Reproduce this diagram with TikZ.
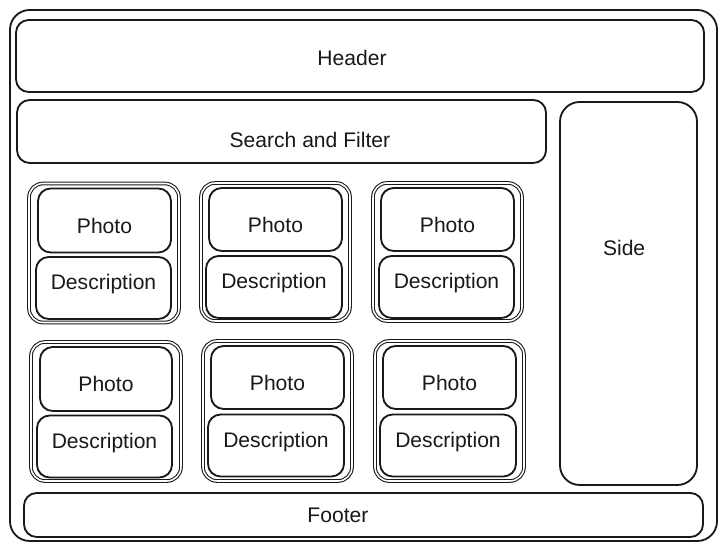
\documentclass[tikz,border=0pt]{standalone}
\usepackage{fontspec}
\setmainfont{Liberation Sans}
\usetikzlibrary{positioning}
\newcommand{\SketchColor}{black!90}
\newcommand{\PaperColor}{white}

\begin{document}
\begin{tikzpicture}[
	% Define styles and settings
	box/.style={rectangle, draw=\SketchColor, fill=\PaperColor, line width=1.3pt, rounded corners=9pt, text centered},
	card/.style={rectangle, draw=\SketchColor, double=\PaperColor, double distance=1.1pt, line width=0.75pt, rounded corners=10pt},
	tag/.style={font=\fontsize{15}{17}\selectfont, text=\SketchColor},
	photo/.style={box, label={[tag, yshift=-0.13cm]center:Photo}},
	description/.style={box, label={[tag, yshift=0.09cm]center:Description}}
	]
	% \draw[help lines] (0, 0) grid (18, 13);
	\useasboundingbox (0,0) rectangle (18.125,13.775);

	\draw (9.0875,6.8875) node[box, rounded corners=14pt, minimum height=13.275cm, minimum width=17.675cm] (Frame) {};

	\draw (9.0,12.375) node[box, minimum height=1.8cm, minimum width=17.2cm, label={[tag, shift={(-0.2,-0.05)}]center:Header}] (Header) {};
	\draw (7.0375,10.4875) node[box, minimum height=1.575cm, minimum width=13.225cm, label={[tag, shift={(0.71,-0.21)}]center:Search and Filter}] (SearchFilter) {};
	\draw (15.7125,6.4375) node[box, rounded corners=14pt, minimum height=9.575cm, minimum width=3.425cm, label={[tag, shift={(-0.11,1.14)}]center:Side}] (Side) {};
	\draw (9.0875,0.9) node[box, minimum height=1.1cm, minimum width=16.975cm, label={[tag, shift={(-0.64,0)}]center:Footer}] (Footer) {};

	% first row
	\draw (2.6,7.45) node[card, minimum height=3.475cm, minimum width=3.75cm] (Card_1_1) {};
		\draw (2.6125,8.2625) node[photo, minimum height=1.6cm, minimum width=3.325cm] (Photo_1_1) {};
		\draw (2.5875,6.575) node[description, minimum height=1.55cm, minimum width=3.375cm] (Description_1_1) {};
	\draw (6.8875,7.475) node[card, minimum height=3.45cm, minimum width=3.725cm] (Card_1_2) {};
		\draw (6.8875,8.2875) node[photo, minimum height=1.575cm, minimum width=3.325cm] (Photo_1_2) {};
		\draw (6.85,6.6) node[description, minimum height=1.55cm, minimum width=3.4cm] (Description_1_2) {};
	\draw (11.1875,7.475) node[card, minimum height=3.45cm, minimum width=3.725cm] (Card_1_3) {};
		\draw (11.1875,8.2875) node[photo, minimum height=1.575cm, minimum width=3.325cm] (Photo_1_3) {};
		\draw (11.1625,6.6) node[description, minimum height=1.55cm, minimum width=3.375cm] (Description_1_3) {};

	% second row
	\draw (2.65,3.4875) node[card, minimum height=3.475cm, minimum width=3.75cm] (Card_2_1) {};
		\draw (2.65,4.3) node[photo, minimum height=1.6cm, minimum width=3.3cm] (Photo_2_1) {};
		\draw (2.6125,2.6125) node[description, minimum height=1.55cm, minimum width=3.375cm] (Description_2_1) {};
	\draw (6.9375,3.5) node[card, minimum height=3.5cm, minimum width=3.725cm] (Card_2_2) {};
		\draw (6.9375,4.3375) node[photo, minimum height=1.575cm, minimum width=3.325cm] (Photo_2_2) {};
		\draw (6.9,2.6375) node[description, minimum height=1.55cm, minimum width=3.4cm] (Description_2_2) {};
	\draw (11.2375,3.5) node[card, minimum height=3.5cm, minimum width=3.725cm] (Card_2_3) {};
		\draw (11.2375,4.3375) node[photo, minimum height=1.575cm, minimum width=3.325cm] (Photo_2_3) {};
		\draw (11.2,2.6375) node[description, minimum height=1.55cm, minimum width=3.4cm] (Description_2_3) {};

\end{tikzpicture}
\end{document}
